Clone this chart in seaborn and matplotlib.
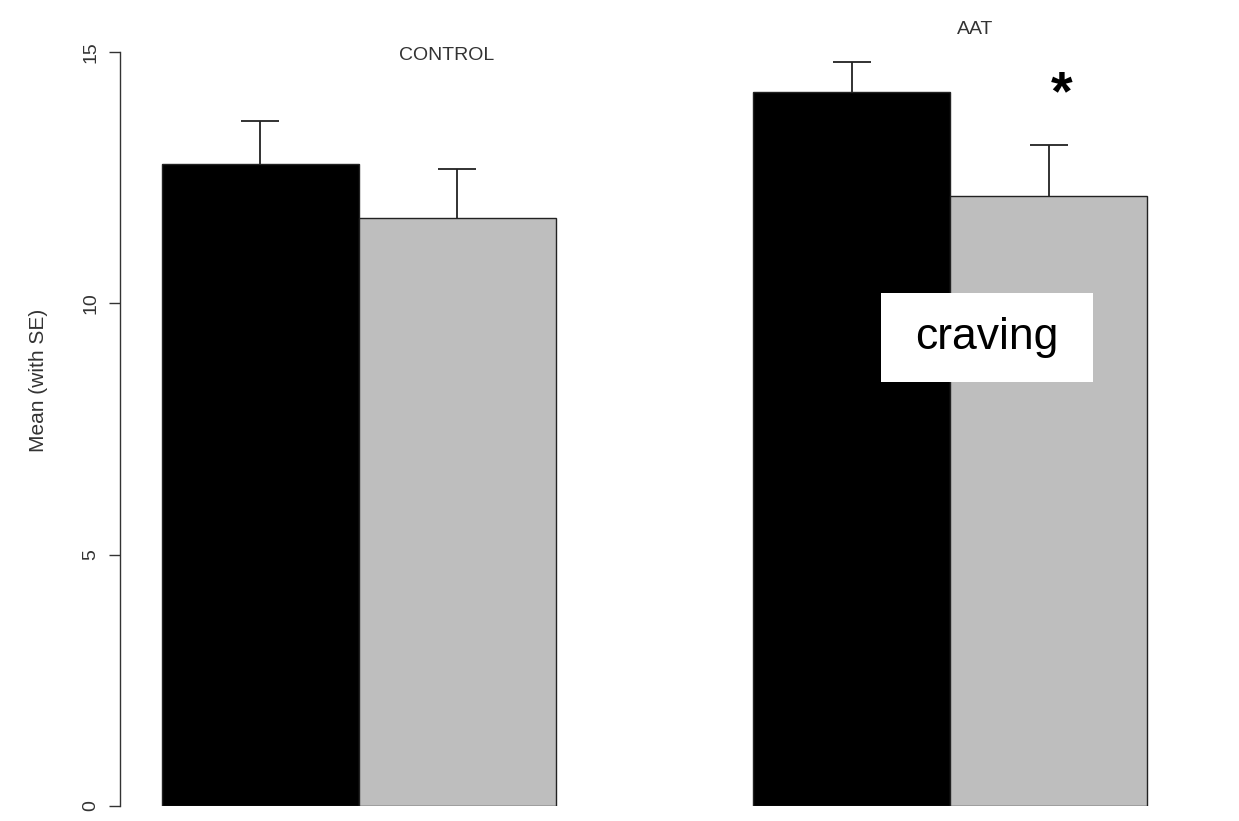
import matplotlib
matplotlib.use("Agg")
import matplotlib.pyplot as plt
from matplotlib.patches import Rectangle
import seaborn as sns
import pandas as pd

# Mean craving scores per training group, before (black) and after (grey) training
groups = ["CONTROL", "AAT"]
sessions = ["pre", "post"]
control_means = [12.77, 11.70]
aat_means = [14.20, 12.13]
control_se = [0.86, 0.97]
aat_se = [0.60, 1.02]
y_ticks = [0, 5, 10, 15]

rows = []
for g, means, ses in zip(groups, [control_means, aat_means], [control_se, aat_se]):
    for s, m, e in zip(sessions, means, ses):
        rows.append({"group": g, "session": s, "mean": m, "se": e})
df = pd.DataFrame(rows)

sns.set_theme(style="white")
plt.rcParams["font.family"] = ["Liberation Sans", "DejaVu Sans"]

fig = plt.figure(figsize=(12.39, 8.21), dpi=100)
ax = fig.add_axes([0.0969, 0.01827, 0.8555, 0.9184])

sns.barplot(data=df, x="group", y="mean", hue="session", order=groups,
            hue_order=sessions, palette=["#000000", "#bebebe"], width=2 / 3,
            gap=0, edgecolor="#222222", linewidth=1.0, errorbar=None,
            legend=False, ax=ax, saturation=1)

# Upper-only standard-error whiskers, placed on the drawn bars
bars = ax.patches
lookup = {(r.group, r.session): (r["mean"], r.se) for _, r in df.iterrows()}
k = 0
for s in sessions:
    for g in groups:
        p = bars[k]
        k += 1
        m, e = lookup[(g, s)]
        xc = p.get_x() + p.get_width() / 2
        _, caps, _ = ax.errorbar([xc], [m], yerr=[[0], [e]], fmt="none",
                                 ecolor="#222222", elinewidth=1.3,
                                 capsize=13.5, capthick=1.3, zorder=3)
        caps[0].set_visible(False)

ax.set_xlim(-0.404, 1.389)
ax.set_ylim(0, 15)
ax.set_yticks(y_ticks)
ax.set_yticklabels([str(t) for t in y_ticks], rotation=90, va="center",
                   fontsize=14, color="#333333")
ax.tick_params(axis="y", left=True, length=8, width=1.0, color="#333333", pad=7)
ax.set_xticks([])
ax.set_xlabel("")
for side in ["top", "right", "bottom"]:
    ax.spines[side].set_visible(False)
ax.spines["left"].set_bounds(0, 15)
ax.spines["left"].set_color("#333333")
ax.spines["left"].set_linewidth(1.0)

ax.set_ylabel("Mean (with SE)", fontsize=15, color="#333333")
ax.yaxis.set_label_coords(-0.068, 0.565)

# Panel titles
ax.text(0.149, 14.94, "CONTROL", ha="center", va="center", fontsize=14,
        color="#333333", clip_on=False)
ax.text(1.042, 15.44, "AAT", ha="center", va="center", fontsize=14,
        color="#333333", clip_on=False)

# Significance marker over the post-training AAT bar
ax.text(1.188, 14.14, "*", ha="center", va="center", fontsize=40,
        fontweight="bold", color="black", clip_on=False)

# Outcome label on a white box
ax.add_patch(Rectangle((0.883, 8.43), 1.242 - 0.883, 10.2 - 8.43,
                       facecolor="white", edgecolor="none", zorder=4))
ax.text(1.0626, 9.32, "craving", ha="center", va="center", fontsize=32,
        color="black", zorder=5)

fig.savefig("out.png", dpi=100)
